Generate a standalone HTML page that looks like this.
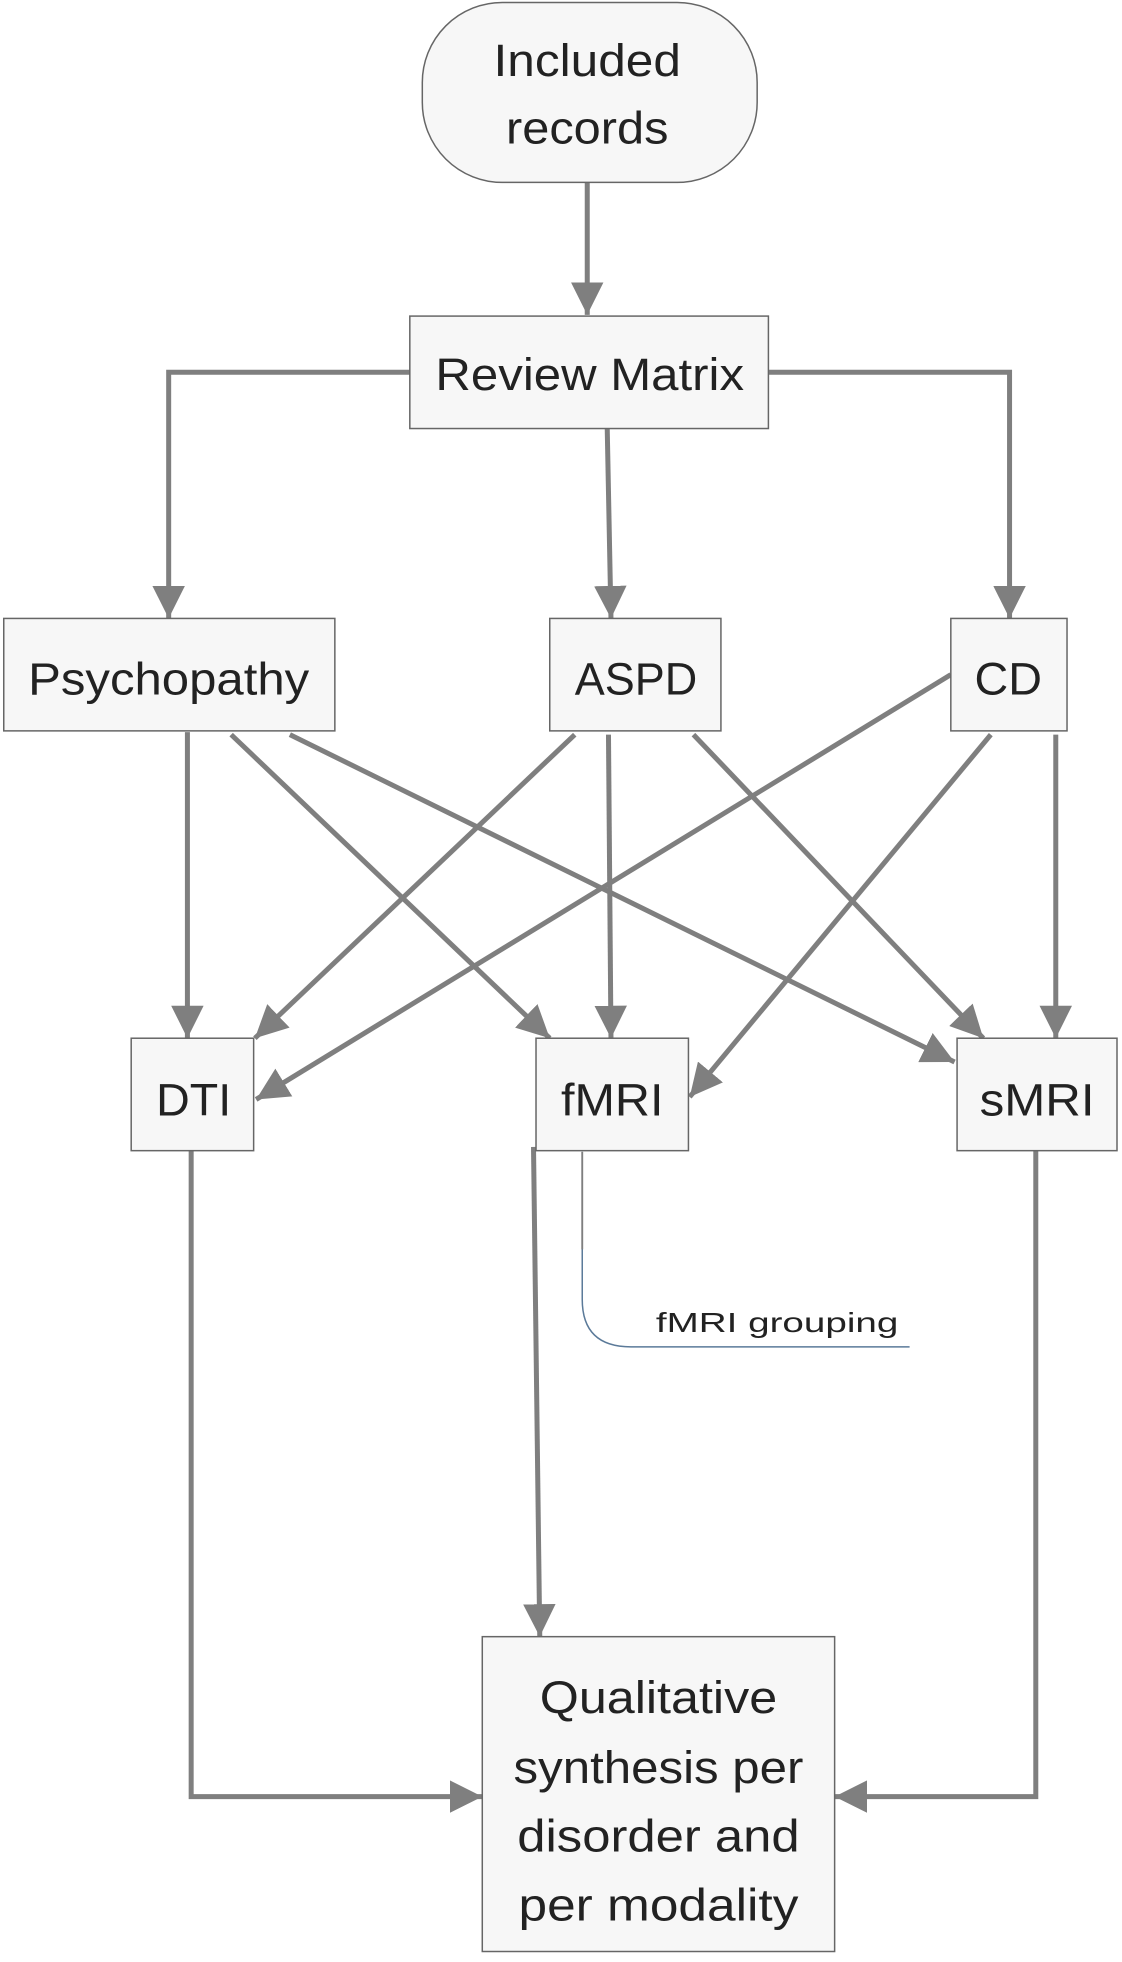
<!DOCTYPE html>
<html><head><meta charset="utf-8"><style>
html,body{margin:0;padding:0;background:#fff;}
svg{display:block;}
text{font-family:"Liberation Sans",sans-serif;fill:#222;}
</style></head><body>
<svg width="1122" height="1962" viewBox="0 0 898 1570.4" preserveAspectRatio="none" xmlns="http://www.w3.org/2000/svg">
<defs>
<marker id="a" markerUnits="userSpaceOnUse" markerWidth="28" markerHeight="26" refX="26" refY="13" orient="auto">
<path d="M0,0 L26,13 L0,26 Z" fill="#7f7f7f"/>
</marker>
</defs>
<g stroke="#7f7f7f" stroke-width="4" fill="none" marker-end="url(#a)">
<line x1="470" y1="146" x2="470" y2="252"/>
<polyline points="328,298 135,298 135,495"/>
<polyline points="615,298 808,298 808,495"/>
<line x1="486" y1="343" x2="489" y2="495"/>
<line x1="150" y1="586" x2="150" y2="831"/>
<line x1="185" y1="588" x2="440" y2="831"/>
<line x1="232" y1="588" x2="764" y2="850"/>
<line x1="460" y1="588" x2="204" y2="831"/>
<line x1="487" y1="588" x2="489" y2="831"/>
<line x1="555" y1="588" x2="787" y2="831"/>
<line x1="761" y1="540" x2="205" y2="880"/>
<line x1="793" y1="588" x2="552" y2="878"/>
<line x1="845" y1="588" x2="845" y2="831"/>
<polyline points="153,921 153,1438 386,1438"/>
<line x1="427" y1="918" x2="432" y2="1310"/>
<polyline points="829,921 829,1438 668,1438"/>
</g>
<path d="M466,922 L466,1040 Q466,1078 505,1078 L728,1078" stroke="#5b7a99" stroke-width="1.2" fill="none"/>
<line x1="466" y1="922" x2="466" y2="1000" stroke="#7f7f7f" stroke-width="1.5"/>
<g fill="#f7f7f7" stroke="#666" stroke-width="1.2">
<rect x="338" y="2" width="268" height="144" rx="64" ry="64"/>
<rect x="328" y="253" width="287" height="90"/>
<rect x="3" y="495" width="265" height="90"/>
<rect x="440" y="495" width="137" height="90"/>
<rect x="761" y="495" width="93" height="90"/>
<rect x="105" y="831" width="98" height="90"/>
<rect x="429" y="831" width="122" height="90"/>
<rect x="766" y="831" width="128" height="90"/>
<rect x="386" y="1310" width="282" height="252"/>
</g>
<g font-size="36" text-anchor="middle">
<text x="470" y="61" textLength="150" lengthAdjust="spacingAndGlyphs">Included</text>
<text x="470" y="115" textLength="130" lengthAdjust="spacingAndGlyphs">records</text>
<text x="472" y="312" textLength="247" lengthAdjust="spacingAndGlyphs">Review Matrix</text>
<text x="135" y="556" textLength="225" lengthAdjust="spacingAndGlyphs">Psychopathy</text>
<text x="509" y="556" textLength="98" lengthAdjust="spacingAndGlyphs">ASPD</text>
<text x="807" y="556" textLength="54" lengthAdjust="spacingAndGlyphs">CD</text>
<text x="155" y="893" textLength="60" lengthAdjust="spacingAndGlyphs">DTI</text>
<text x="490" y="893" textLength="82" lengthAdjust="spacingAndGlyphs">fMRI</text>
<text x="830" y="893" textLength="92" lengthAdjust="spacingAndGlyphs">sMRI</text>
<text x="527" y="1371" textLength="190" lengthAdjust="spacingAndGlyphs">Qualitative</text>
<text x="527" y="1427" textLength="232" lengthAdjust="spacingAndGlyphs">synthesis per</text>
<text x="527" y="1482" textLength="226" lengthAdjust="spacingAndGlyphs">disorder and</text>
<text x="527" y="1537" textLength="224" lengthAdjust="spacingAndGlyphs">per modality</text>
</g>
<text x="525" y="1066" font-size="22" textLength="194" lengthAdjust="spacingAndGlyphs">fMRI grouping</text>
</svg>
</body></html>
